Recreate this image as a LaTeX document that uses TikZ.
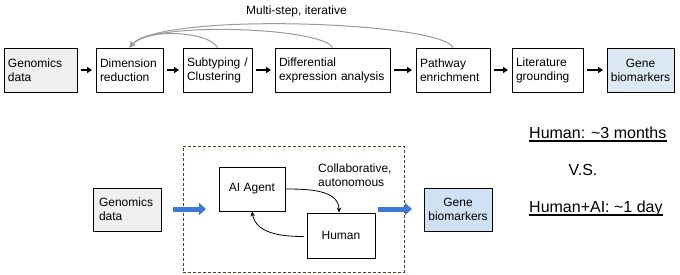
\documentclass[tikz,border=0pt]{standalone}
\usepackage{fontspec}
\setmainfont{Liberation Sans}
\usetikzlibrary{arrows.meta}
\hyphenpenalty=10000
\exhyphenpenalty=10000
\definecolor{boxgray}{HTML}{EFEFEF}
\definecolor{boxblue}{HTML}{CFE2F3}
\definecolor{boxbluetop}{HTML}{DCE9F5}
\definecolor{arcgray}{HTML}{9A9A9A}
\definecolor{arrowblue}{HTML}{3C78D8}
\definecolor{dashbrown}{HTML}{5E3A17}
\begin{document}
\begin{tikzpicture}[x=1pt,y=-1pt,
  every node/.style={font=\fontsize{12}{14}\selectfont},
  stepbox/.style={draw, line width=0.9pt, inner xsep=4pt, inner ysep=0pt, align=left, minimum height=44pt},
  cbox/.style={draw, line width=0.9pt, inner sep=0pt, align=center},
  flowarrow/.style={line width=1.6pt, -{Triangle[length=5pt,width=6pt]}, shorten <=3.5pt, shorten >=3.5pt},
  arcarrow/.style={draw=arcgray, line width=1pt, -{Stealth[length=6pt,width=6pt]}},
  loopArrow/.style={line width=0.8pt, -{Stealth[length=5pt,width=4.5pt]}},
  bluearrow/.style={draw=arrowblue, line width=5pt, -{Triangle[length=7pt,width=12pt]}},
  bigtext/.style={font=\fontsize{16}{19}\selectfont, inner sep=0pt}
]
\useasboundingbox (0,0) rectangle (680,274);

% top row
\node[stepbox, text width=65pt, fill=boxgray] (g1) at (40.5,70) {Genomics\\data};
\node[stepbox, text width=59pt] (d1) at (129.5,70) {Dimension\\reduction};
\node[stepbox, text width=61pt] (s1) at (217.5,70) {Subtyping /\\Clustering};
\node[stepbox, text width=107pt] (df) at (332.5,70) {Differential\\expression analysis};
\node[stepbox, text width=66pt] (p1) at (453,70) {Pathway\\enrichment};
\node[stepbox, text width=63pt] (l1) at (547.5,70) {Literature\\grounding};
\node[cbox, fill=boxbluetop, minimum width=67pt, minimum height=44pt] (gb1) at (640.5,70) {Gene\\biomarkers};

\draw[flowarrow] (g1.east) -- (d1.west);
\draw[flowarrow] (d1.east) -- (s1.west);
\draw[flowarrow] (s1.east) -- (df.west);
\draw[flowarrow] (df.east) -- (p1.west);
\draw[flowarrow] (p1.east) -- (l1.west);
\draw[flowarrow] (l1.east) -- (gb1.west);

\node (ms) at (296.5,11) {Multi-step, iterative};
\draw[arcarrow] (p1.north) .. controls +(-12pt,26pt) and +(30pt,36pt) .. (d1.north);
\draw[arcarrow] (df.north) .. controls +(-10pt,20pt) and +(22pt,27pt) .. (d1.north);
\draw[arcarrow] (s1.north) .. controls +(-8pt,16pt) and +(16pt,20pt) .. (d1.north);

% bottom
\node[draw=dashbrown, dash pattern=on 3pt off 2pt, line width=0.8pt, minimum width=221pt, minimum height=126pt, inner sep=0pt] (frame) at (293.5,209) {};
\node[stepbox, inner xsep=6pt, text width=56pt, minimum height=43pt, fill=boxgray] (g2) at (127,209.5) {Genomics\\data};
\node[cbox, minimum width=66pt, minimum height=44pt] (ai) at (252,189) {AI Agent};
\node[cbox, minimum width=68pt, minimum height=45pt] (hu) at (341,235.5) {Human};
\node[cbox, fill=boxblue, minimum width=68pt, minimum height=43pt] (gb2) at (458,209.5) {Gene\\biomarkers};
\node[anchor=north west, align=left, inner sep=0pt] (collab) at (318,163.5) {Collaborative,\\autonomous};

\draw[loopArrow] (ai.east) to[out=0, in=90] ([xshift=-2pt]hu.north);
\draw[loopArrow] ([xshift=-3pt, yshift=-1pt]hu.west) to[out=180, in=-80] (ai.south);

\coordinate (ba1s) at (173,209);
\coordinate (ba1e) at (206,209);
\coordinate (ba2s) at (378,209);
\coordinate (ba2e) at (412,209);
\draw[bluearrow] (ba1s) -- (ba1e);
\draw[bluearrow] (ba2s) -- (ba2e);

\node[bigtext, anchor=base west] (t1) at (529,138) {Human: \textasciitilde3 months};
\draw[line width=1.1pt] ([yshift=-3pt]t1.base west) -- ([yshift=-3pt]t1.base east);
\node[bigtext] (vs) at (583,170) {V.S.};
\node[bigtext, anchor=base west] (t2) at (529,212) {Human+AI: \textasciitilde1 day};
\draw[line width=1.1pt] ([yshift=-3pt]t2.base west) -- ([yshift=-3pt]t2.base east);
\end{tikzpicture}
\end{document}
